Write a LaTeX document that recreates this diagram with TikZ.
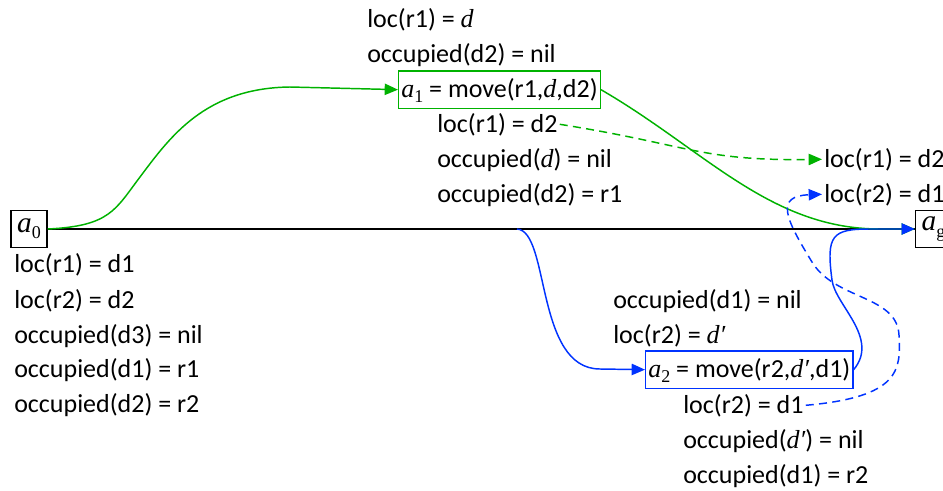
\documentclass[tikz,border=0pt]{standalone}
\usepackage{fontspec}
\setmainfont{Carlito}
\newfontfamily\tms{Liberation Serif}
\usepackage{tikz}
\usetikzlibrary{positioning, arrows.meta}
\definecolor{grn}{RGB}{0,178,0}
\definecolor{blu}{RGB}{0,51,255}
\newcommand{\vname}[1]{{\tms\itshape #1}}
\newcommand{\sbs}[1]{\raisebox{-0.45ex}{\tms\fontsize{13.5}{14}\selectfont #1}}

\begin{document}
\begin{tikzpicture}[x=0.75pt,y=0.75pt,yscale=-1,xscale=1,
                    every node/.style={font=\fontsize{19.5}{23}\selectfont},
                    txt/.style={anchor=base west, inner sep=1.5pt},
                    act/.style={draw, anchor=base west, line width=1pt, inner xsep=2pt, inner ysep=0pt,
                                text height=19.5pt, text depth=8.5pt},
                    st/.style={draw, line width=1pt, minimum width=27pt, minimum height=27.75pt,
                               inner sep=0pt, font=\fontsize{22}{24}\selectfont},
                    arr/.style={line width=1.1pt, -{Triangle[length=10pt,width=8.5pt]}},
                    dsh/.style={arr, dash pattern={on 6pt off 4pt}}]
\useasboundingbox (0,0) rectangle (943,490);

% States
\node[st] (a0) at (29,229) {\vname{a}\sbs{0}};
\node[st] (ag) at (933.5,229) {\vname{a}\sbs{g}};

% Text Node: initial state
\node[txt] (s0a) at (12,272) {loc(r1) = d1};
\node[txt] (s0b) at (12,308) {loc(r2) = d2};
\node[txt] (s0c) at (12,343) {occupied(d3) = nil};
\node[txt] (s0d) at (12,377) {occupied(d1) = r1};
\node[txt] (s0e) at (12,412) {occupied(d2) = r2};

% Action a1
\node[txt] (p1a) at (365,27) {loc(r1) = \vname{d}};
\node[txt] (p1b) at (365,62) {occupied(d2) = nil};
\node[act, draw=grn] (a1) at (398,97) {\vname{a}\sbs{1} = move(r1,\vname{d},d2)};
\node[txt] (e1a) at (435,132) {loc(r1) = d2};
\node[txt] (e1b) at (435,167) {occupied(\vname{d}) = nil};
\node[txt] (e1c) at (435,202) {occupied(d2) = r1};

% Text Node: goal
\node[txt] (g1) at (822,167) {loc(r1) = d2};
\node[txt] (g2) at (822,202) {loc(r2) = d1};

% Action a2
\node[txt] (p2a) at (611,308) {occupied(d1) = nil};
\node[txt] (p2b) at (611,343) {loc(r2) = \vname{d′}};
\node[act, draw=blu] (a2) at (645,377) {\vname{a}\sbs{2} = move(r2,\vname{d′},d1)};
\node[txt] (e2a) at (681,413) {loc(r2) = d1};
\node[txt] (e2b) at (681,448) {occupied(\vname{d′}) = nil};
\node[txt] (e2c) at (681,483) {occupied(d1) = r2};

%Straight Lines
\draw[line width=1.1pt] (a0.east) -- (ag.west);
\coordinate (br) at (517,229);

% green plan
\draw[arr, grn] (a0.east) .. controls (110,226) and (115,210) .. (140,177)
      .. controls (170,137) and (205,88) .. (290,87) -- (a1.west);
\draw[arr, grn] (a1.east) .. controls (705,150) and (770,229) .. (880,229) -- (ag.west);
\draw[dsh, grn] (e1a.east) .. controls (690,145) and (700,161) .. (g1.west);

% blue plan
\draw[arr, blu] (br) .. controls (550,231) and (535,369) .. (600,369) -- (a2.west);
\draw[arr, blu] (a2.east) .. controls (880,338) and (835,305) .. (832,280)
      .. controls (826,235) and (832,229) .. (870,229) -- (ag.west);
\draw[dsh, blu] (e2a.east) .. controls (900,397) and (901,370) .. (899,335)
      .. controls (897,295) and (835,300) .. (812,262)
      .. controls (785,218) and (775,196) .. (g2.west);

\end{tikzpicture}
\end{document}
